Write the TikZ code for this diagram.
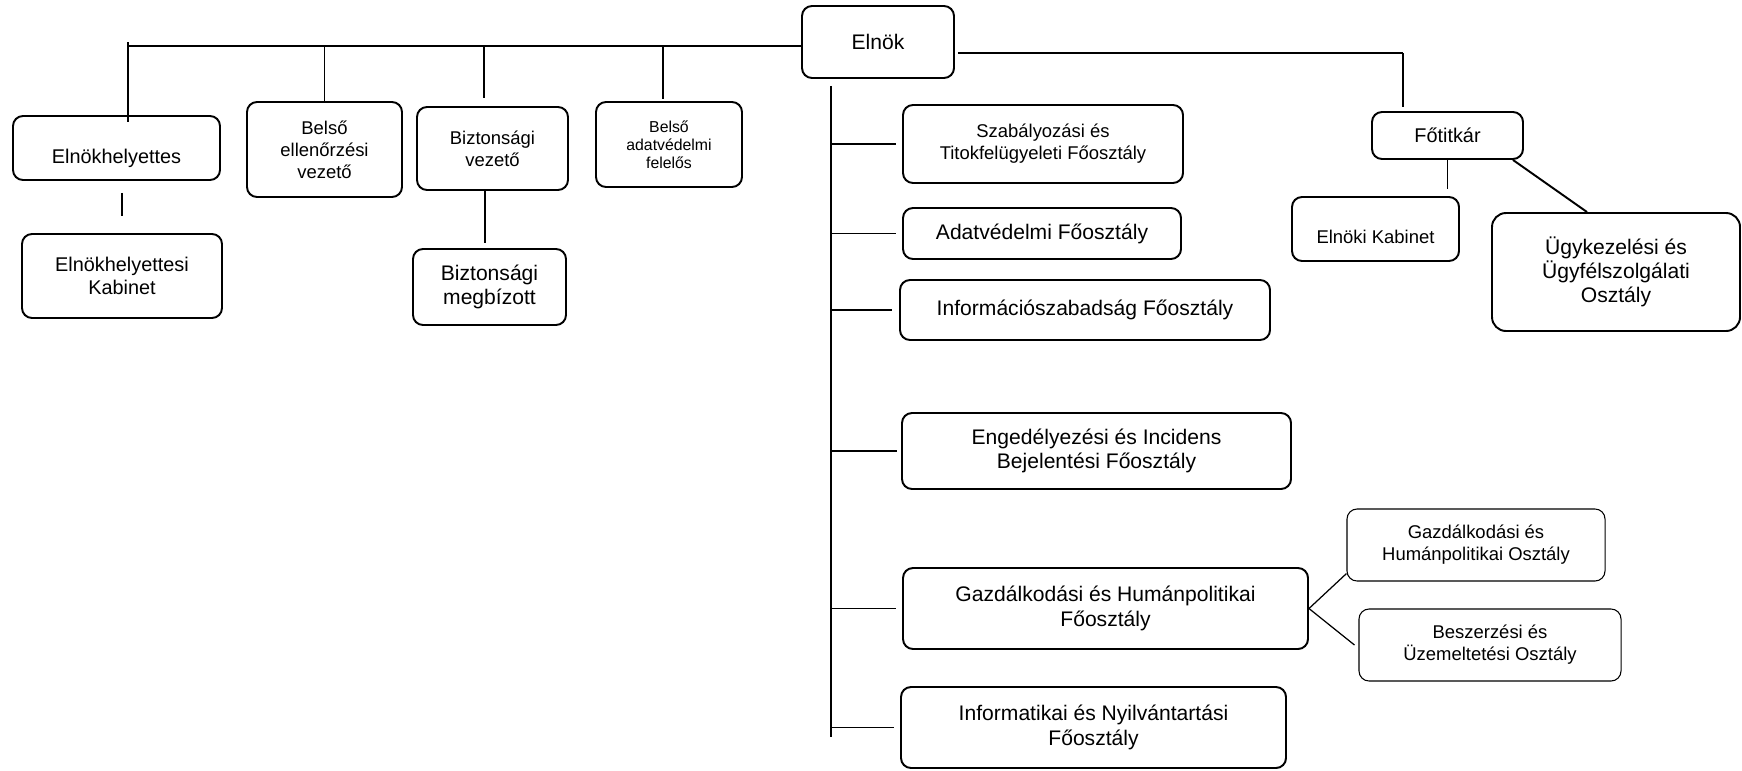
\documentclass[tikz,border=0pt]{standalone}
\usepackage{fontspec}
\setmainfont{Liberation Sans}
\usetikzlibrary{calc}

\begin{document}
\begin{tikzpicture}[
    x=0.2mm, y=-0.2mm,
    bigtxt/.style  ={font=\fontsize{12}{13.8}\selectfont},
    midtxt/.style  ={font=\fontsize{11.3}{12.9}\selectfont},
    smalltxt/.style={font=\fontsize{10.5}{12.5}\selectfont},
    tinytxt/.style ={font=\fontsize{9}{10.2}\selectfont},
    box/.style     ={draw, rounded corners=2mm, line width=1.1pt, align=center,
                     inner sep=0pt},
    thinbox/.style ={draw, rounded corners=2mm, line width=0.6pt, align=center,
                     inner sep=0pt},
    link/.style    ={line width=1.1pt},
    thinlink/.style={line width=0.7pt},
]
\useasboundingbox (0,0) rectangle (1742,770);

% top level
\node[box, bigtxt, minimum width=30.4mm, minimum height=14.4mm] (elnok) at (878,42) {Elnök};

% left group
\node[box, midtxt, text height=6.9mm, minimum width=41.4mm, minimum height=12.8mm] (elnokh) at (116.5,148) {Elnökhelyettes};
\node[box, midtxt, minimum width=40mm, minimum height=16.8mm] (ekab) at (122,276) {Elnökhelyettesi\\Kabinet};
\node[box, smalltxt, minimum width=31mm, minimum height=19mm] (belso) at (324.5,149.5) {Belső\\ellenőrzési\\vezető};
\node[box, smalltxt, minimum width=30.2mm, minimum height=16.6mm] (bizt) at (492.5,148.5) {Biztonsági\\vezető};
\node[box, bigtxt, minimum width=30.6mm, minimum height=15.2mm] (bmeg) at (489.5,287) {Biztonsági\\megbízott};
\node[box, tinytxt, minimum width=29.2mm, minimum height=17mm] (badat) at (669,144.5) {Belső\\adatvédelmi\\felelős};

% main departments
\node[box, smalltxt, minimum width=56mm, minimum height=15.6mm] (szab) at (1043,144) {Szabályozási és\\Titokfelügyeleti Főosztály};
\node[box, bigtxt, minimum width=55.6mm, minimum height=10.2mm] (adat) at (1042,233.5) {Adatvédelmi Főosztály};
\node[box, bigtxt, minimum width=74mm, minimum height=12mm] (info) at (1085,310) {Információszabadság Főosztály};
\node[box, bigtxt, minimum width=77.8mm, minimum height=15.2mm] (enged) at (1096.5,451) {Engedélyezési és Incidens\\Bejelentési Főosztály};
\node[box, bigtxt, minimum width=81mm, minimum height=16.2mm] (gazdf) at (1105.5,608.5) {Gazdálkodási és Humánpolitikai\\Főosztály};
\node[box, bigtxt, minimum width=77mm, minimum height=16.2mm] (infor) at (1093.5,727.5) {Informatikai és Nyilvántartási\\Főosztály};
\node[thinbox, smalltxt, minimum width=51.6mm, minimum height=14.4mm] (gazdo) at (1476,545) {Gazdálkodási és\\Humánpolitikai Osztály};
\node[thinbox, smalltxt, minimum width=52.4mm, minimum height=14.4mm] (besz) at (1490,645) {Beszerzési és\\Üzemeltetési Osztály};

% right group
\node[box, midtxt, minimum width=30.2mm, minimum height=9.4mm] (fotit) at (1447.5,135.5) {Főtitkár};
\node[box, smalltxt, text height=5.9mm, minimum width=33.4mm, minimum height=12.8mm] (ekabi) at (1375.5,229) {Elnöki Kabinet};
\node[box, bigtxt, rounded corners=2.8mm, minimum width=49.6mm, minimum height=23.6mm] (ugyk) at (1616,272) {Ügykezelési és\\Ügyfélszolgálati\\Osztály};

\coordinate (busL) at (128,46);
\coordinate (busR) at (1403,53);
\coordinate (trunk) at (831,737);

% left bus
\draw[link] (elnok.west |- busL) -- (busL);
\draw[link] ([yshift=0.8mm]busL) -- ([yshift=-1.4mm]busL |- elnokh.north);
\draw[link, shorten <=2.4mm, shorten >=3.4mm] (elnokh.south -| ekab.north) -- (ekab.north);
\draw[link] (belso.north |- busL) -- (belso.north);
\draw[link, shorten >=1.6mm] ([xshift=-1.7mm]bizt.north |- busL) -- ([xshift=-1.7mm]bizt.north);
\draw[link, shorten >=1mm] ([xshift=-1.5mm]bizt.south) -- ([xshift=-1.5mm]bizt.south |- bmeg.north);
\draw[link, shorten >=0.4mm] ([xshift=-1.2mm]badat.north |- busL) -- ([xshift=-1.2mm]badat.north);

% right bus
\draw[link, shorten <=0.6mm] (elnok.east |- busR) -- (busR);
\draw[link, shorten >=0.8mm] (busR) -- (busR |- fotit.north);
\draw[link, shorten >=1.4mm] (fotit.south) -- (fotit.south |- ekabi.north);
\draw[link] ([xshift=-2.2mm]fotit.south east) -- ([xshift=-5.8mm]ugyk.north);

% trunk
\draw[link, shorten <=1.4mm] (elnok.south -| trunk) -- (trunk);
\draw[link, shorten >=1.2mm] (szab.west -| trunk) -- (szab.west);
\draw[link, shorten >=1.2mm] (adat.west -| trunk) -- (adat.west);
\draw[link, shorten >=1.4mm] (info.west -| trunk) -- (info.west);
\draw[link, shorten >=0.8mm] (enged.west -| trunk) -- (enged.west);
\draw[link, shorten >=1.2mm] (gazdf.west -| trunk) -- (gazdf.west);
\draw[link, shorten >=1.2mm] (infor.west -| trunk) -- (infor.west);

% sub units
\draw[thinlink] (gazdf.east) -- ([yshift=1.6mm]gazdo.south west);
\draw[thinlink] (gazdf.east) -- ([xshift=-0.8mm]besz.west);
\end{tikzpicture}
\end{document}
